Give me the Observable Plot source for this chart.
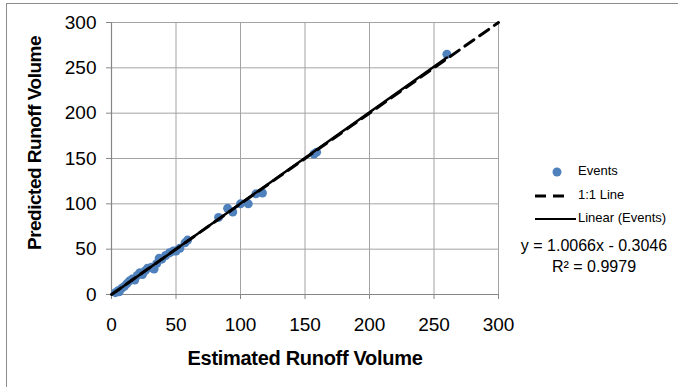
<!DOCTYPE html>
<html>
<head>
<meta charset="utf-8">
<script src="https://cdn.jsdelivr.net/npm/d3@7"></script>
<script src="https://cdn.jsdelivr.net/npm/@observablehq/plot@0.6"></script>
<style>
  html, body { margin: 0; padding: 0; background: #fff; }
  #chart { position: relative; width: 678px; height: 387px; overflow: hidden; }
  svg { font-family: "Liberation Sans", Arial, sans-serif; }
</style>
</head>
<body>
<div id="chart"></div>
<script>
// ---- data ----
const estimated = [3, 5, 6, 8, 10, 12, 14, 16, 18, 20, 22, 24, 26, 28, 31, 33, 35, 37, 39, 42, 45, 48, 50, 53, 57, 59, 83, 90, 94, 100, 106, 112, 117, 157, 159, 260];
const predicted = [2, 4, 3, 7, 9, 12, 15, 17, 16, 21, 24, 22, 26, 29, 30, 28, 34, 40, 39, 43, 46, 48, 48, 51, 57, 60, 85, 95, 91, 100, 100, 111, 112, 155, 157, 265];
const axisTicks = [0, 50, 100, 150, 200, 250, 300];
const oneToOne = [0, 300];
const slope = 1.0066;
const intercept = -0.3046;
const rSquared = 0.9979;
const legendLabels = ["Events", "1:1 Line", "Linear (Events)"];
const xTitle = "Estimated Runoff Volume";
const yTitle = "Predicted Runoff Volume";

const events = estimated.map((x, i) => ({x, y: predicted[i]}));
const identity = oneToOne.map(v => ({x: v, y: v}));
const xMin = d3.min(estimated), xMax = d3.max(estimated);
const fit = [xMin, xMax].map(x => ({x, y: slope * x + intercept}));

const blue = "#4F81BD";
const W = 678, H = 387;

const chart = Plot.plot({
  width: W,
  height: H,
  marginLeft: 111,
  marginRight: 180,
  marginTop: 22,
  marginBottom: 93,
  style: {fontFamily: '"Liberation Sans", Arial, sans-serif', background: "transparent", color: "#000"},
  x: {domain: [0, 300], ticks: axisTicks},
  y: {domain: [0, 300], ticks: axisTicks},
  marks: [
    Plot.gridX(axisTicks, {stroke: "#a3a3a3", strokeOpacity: 1, strokeWidth: 1}),
    Plot.gridY(axisTicks, {stroke: "#a3a3a3", strokeOpacity: 1, strokeWidth: 1}),
    Plot.ruleX([0], {stroke: "#868686", strokeWidth: 1.2}),
    Plot.ruleY([0], {stroke: "#868686", strokeWidth: 1.2}),
    Plot.axisX(axisTicks, {tickSize: 5, tickPadding: 18, fontSize: 19, label: null, stroke: "#868686", tickFormat: d3.format("d")}),
    Plot.axisY(axisTicks, {tickSize: 5, tickPadding: 10, fontSize: 19, label: null, stroke: "#868686", tickFormat: d3.format("d")}),
    Plot.dot(events, {x: "x", y: "y", r: 4.5, fill: blue, stroke: "none"}),
    Plot.line(identity, {x: "x", y: "y", stroke: "#000", strokeWidth: 3, strokeDasharray: "11,7"}),
    Plot.line(fit, {x: "x", y: "y", stroke: "#000", strokeWidth: 2.5})
  ]
});

document.getElementById("chart").appendChild(chart);
const svg = d3.select(chart);

// outer chart-area border
svg.append("rect")
  .attr("x", 6.5).attr("y", 3.5).attr("width", W).attr("height", H)
  .attr("fill", "none").attr("stroke", "#8c8c8c").attr("stroke-width", 1);

// axis titles
svg.append("text")
  .attr("x", 305).attr("y", 360).attr("text-anchor", "middle").attr("dominant-baseline", "middle")
  .attr("font-size", 20).attr("font-weight", "bold").attr("letter-spacing", "-0.3")
  .text(xTitle);
svg.append("text")
  .attr("transform", "translate(36,143) rotate(-90)")
  .attr("text-anchor", "middle").attr("dominant-baseline", "middle")
  .attr("font-size", 19).attr("font-weight", "bold").attr("letter-spacing", "-0.5")
  .text(yTitle);

// legend
const lg = svg.append("g").attr("font-size", 13).attr("text-anchor", "start");
lg.append("circle").attr("cx", 557).attr("cy", 172).attr("r", 4.5).attr("fill", blue);
lg.append("text").attr("x", 578).attr("y", 172).attr("dominant-baseline", "middle").text(legendLabels[0]);
lg.append("line").attr("x1", 535).attr("x2", 571).attr("y1", 196).attr("y2", 196)
  .attr("stroke", "#000").attr("stroke-width", 3).attr("stroke-dasharray", "11,7");
lg.append("text").attr("x", 578).attr("y", 196).attr("dominant-baseline", "middle").text(legendLabels[1]);
lg.append("line").attr("x1", 535).attr("x2", 576).attr("y1", 219).attr("y2", 219)
  .attr("stroke", "#000").attr("stroke-width", 2);
lg.append("text").attr("x", 578).attr("y", 219).attr("dominant-baseline", "middle").text(legendLabels[2]);

// trendline equation
const eq = svg.append("g").attr("font-size", 16).attr("text-anchor", "middle");
eq.append("text").attr("x", 594).attr("y", 247).attr("dominant-baseline", "middle")
  .text(`y = ${slope.toFixed(4)}x - ${Math.abs(intercept).toFixed(4)}`);
eq.append("text").attr("x", 594).attr("y", 268).attr("dominant-baseline", "middle")
  .text(`R² = ${rSquared.toFixed(4)}`);
</script>
</body>
</html>
